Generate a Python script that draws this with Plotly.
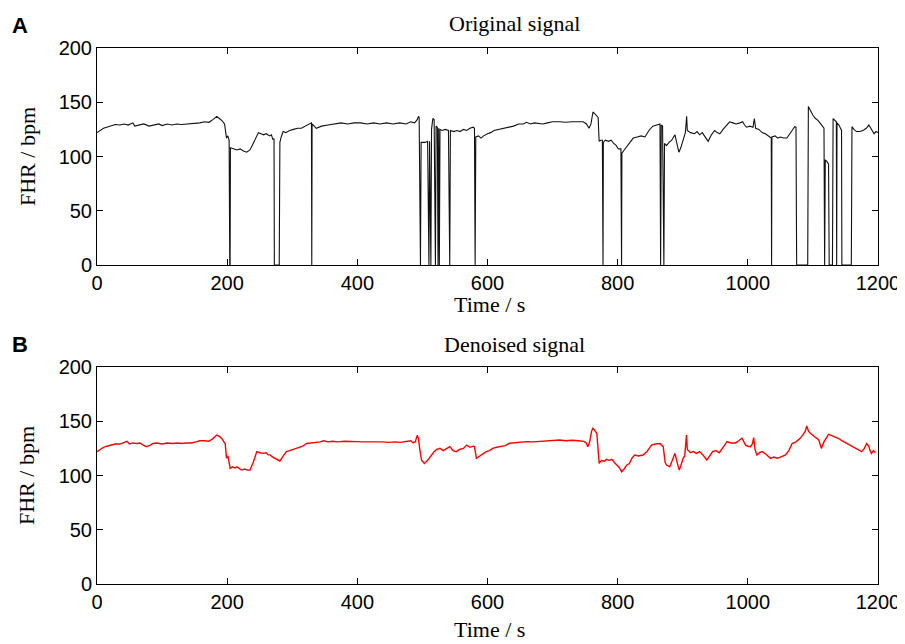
import plotly.graph_objects as go

# FHR recording, original (with signal-loss dropouts to 0) and denoised
orig_time = [
    0, 5, 10, 15, 20, 28, 35, 42, 48, 55, 58, 65, 72, 80, 88, 95, 100, 108, 115, 122,
    130, 140, 150, 158, 165, 172, 178, 184, 188, 192, 196, 199, 201, 203, 204, 204.5,
    205, 210, 215, 220, 225, 230, 235, 240, 245, 248, 252, 256, 260, 265, 268, 270,
    272, 272.5, 280, 281, 283, 286, 290, 296, 302, 308, 314, 320, 325, 329.5, 330,
    330.5, 337, 345, 355, 365, 375, 385, 395, 405, 415, 425, 435, 445, 455, 465, 475,
    482, 488, 492, 494, 495, 496, 497, 498, 504, 508, 509, 510, 511, 513, 514, 516,
    518, 520, 521, 523, 524, 525, 526, 527, 530, 535, 540, 542, 543, 548, 553, 558,
    563, 568, 573, 578, 580, 581, 582, 586, 590, 594, 600, 605, 610, 618, 625, 634,
    640, 648, 655, 660, 666, 672, 680, 685, 692, 700, 711, 720, 730, 740, 747, 752,
    756, 759, 762, 764, 768, 770, 771.5, 774, 776.5, 777, 777.5, 778, 781, 786, 790,
    794, 798, 801, 805, 806, 806.5, 810, 814, 818, 824, 830, 836, 842, 848, 854, 860,
    865, 866, 867, 869, 870, 871, 872, 875, 879, 883, 888, 891, 894, 897, 900, 904,
    906, 907, 912, 918, 922, 926, 930, 934, 939, 944, 949, 953, 957, 962, 967, 972,
    977, 982, 988, 992, 995, 998, 1003, 1008, 1010, 1012, 1017, 1022, 1027, 1031,
    1036, 1036.5, 1037, 1042, 1046, 1050, 1055, 1060, 1064, 1068, 1072, 1074, 1075,
    1092, 1093, 1096, 1100, 1104, 1108, 1112, 1117, 1118, 1119, 1122, 1124, 1125,
    1130, 1131, 1134, 1136, 1136.5, 1137, 1140, 1144, 1144.5, 1159, 1160, 1163, 1167,
    1172, 1177, 1182, 1186, 1190, 1194, 1197, 1200,
]
orig_fhr = [
    122, 124, 126, 127, 128, 129.5, 129, 130, 129, 131, 128, 129, 130, 128, 129, 130, 128.5, 130, 129, 130,
    129.5, 130, 130, 131, 132, 131.5, 134, 137, 135, 133, 130, 117, 119, 115, 0, 0,
    108, 107, 106, 107, 105, 104, 106, 112, 118, 122, 121, 120, 121, 119, 120, 116,
    116, 0, 0, 113, 118, 123, 122, 124, 125, 126, 126, 128, 129, 131, 0,
    130, 126, 128, 129, 130, 131, 130, 131, 131, 130, 131, 130, 131, 130, 131, 130,
    132, 131, 134, 137, 136, 0, 0, 113, 113, 114, 0, 0, 114, 0, 125, 135,
    134, 0, 128, 127, 0, 126, 0, 125, 124, 125, 124, 0, 124, 123, 124, 123,
    125, 124, 126, 127, 126, 0, 118, 119, 117, 119, 121, 122, 124, 125, 126, 127.5,
    128, 130, 130, 131.5, 130, 131, 130, 130, 131, 132, 132, 131.5, 132, 132, 132, 130,
    126, 130, 141, 140, 137, 136, 114, 115, 115, 0, 0, 113, 115, 114, 115,
    112, 110, 107, 107, 0, 103, 106, 109, 113, 117, 118, 119, 118, 124, 128, 129,
    130, 0, 129, 128, 0, 0, 112, 110, 113, 115, 120, 113, 104, 108, 115, 122,
    137, 124, 122, 121, 123, 120, 122, 118, 114, 120, 124, 122, 121, 125, 129, 132,
    131, 130, 131, 132, 129, 127, 128, 127, 135, 126, 125, 122, 121, 119,
    117, 0, 118, 119, 117, 118, 117, 117, 120, 124, 127.5, 127, 0,
    0, 146, 142, 138, 135, 133, 130, 126, 0, 97, 95, 93, 0,
    0, 135, 133, 132, 0, 131, 129, 124, 0, 0, 127.5, 125, 123,
    123, 124, 126, 129, 125, 121, 123, 122,
]

den_time = [
    0, 5, 10, 15, 20, 28, 35, 40, 46, 50, 55, 61, 66, 71, 76, 82, 86, 92, 100, 108,
    116, 124, 130, 137, 145, 152, 158, 165, 172, 178, 184, 188, 192, 195, 197, 199,
    201, 203, 204.6, 208, 212, 215, 219, 222, 227, 231, 235, 240, 245.5, 250, 256,
    260, 263, 266, 270, 275, 281, 285, 291, 296, 301, 306, 311, 316, 322, 330, 337,
    343, 348, 355, 362, 370, 380, 390, 399, 408, 418, 428, 438, 448, 458, 466, 474,
    482, 486, 489, 492, 494, 496, 498.7, 503, 508, 513, 518, 522, 527, 532, 537, 542,
    547, 552, 557, 563, 568, 573, 578, 580, 583, 588, 593, 598, 603, 608, 614, 620,
    627, 634, 642, 650, 660, 670, 680, 690, 700, 711, 720, 730, 740, 748, 752, 754,
    757, 760, 762, 765, 768, 771.6, 775, 779, 783, 787, 791, 795, 799, 803, 806, 810,
    814, 818, 822, 826, 832, 839, 845, 852, 858, 865, 870, 873, 875, 880, 884, 888,
    891, 894.5, 897, 900.6, 903, 905.8, 907, 912, 916, 921, 926, 931, 937, 941, 946,
    951, 956, 962, 968, 974, 981, 986, 991, 994, 996.6, 1000, 1004, 1007, 1009, 1011,
    1014, 1018, 1022, 1027, 1031, 1035, 1040, 1045, 1050, 1054, 1058, 1063, 1068,
    1074, 1080, 1084, 1088, 1090.6, 1093, 1096, 1100, 1104, 1109, 1113, 1117, 1121,
    1124, 1128, 1133, 1139, 1145, 1151, 1155, 1159.5, 1165, 1170, 1175, 1179, 1182.6,
    1186, 1187.7, 1190, 1193, 1196,
]
den_fhr = [
    122, 124, 126, 127, 128, 129, 129, 130, 131.5, 129, 130, 129.5, 130, 128, 126.6, 128, 129.5, 130, 129, 130,
    129.5, 130, 129.5, 130, 130, 131, 132, 132, 131.5, 134, 137.3, 136, 134, 131, 129.5, 116,
    118, 112, 106.6, 108, 107, 108, 106, 105, 106, 105, 105, 112, 122, 121, 120.4,
    121, 119, 119, 117, 115, 113.4, 117, 122, 123, 124, 125, 126, 127, 129.5, 130, 130,
    131, 132, 131, 131.5, 131, 131.5, 131, 131.2, 131, 131, 131.5, 131, 130.5, 131, 130.5, 131,
    132, 130, 131, 137, 134, 124, 114, 111, 114, 118, 122, 124, 125, 123, 125, 126.6,
    123, 122, 124, 125, 128, 126, 127, 126.6, 115.8, 118, 120, 122, 123, 125, 126, 127,
    127.5, 129.7, 130, 131, 131.2, 131, 131.5, 132, 132, 132.7, 132, 132.5, 132, 131.5, 129.7, 126.6,
    131, 141, 143.5, 141, 138.9, 111.2, 114, 113, 115, 114, 115, 112, 109.7, 107, 103.5, 106,
    109.7, 111, 116, 118.9, 118, 118.9, 122, 128.1, 129, 129.5, 126.6, 112, 109.7, 108, 114, 120.4,
    113, 105, 109, 115.8, 118, 137.3, 124, 121, 122, 120.4, 122, 119, 114.3, 118, 122,
    123, 121, 126, 131.2, 130, 130, 132, 134.3, 131, 128, 127, 126.6, 129, 135, 124,
    118.9, 121, 122, 120, 118, 115.8, 117, 116, 117, 118, 118.9, 123, 129.5,
    131, 134, 137, 140.4, 145.6, 141, 138.9, 137, 135, 132.7, 125, 131, 135,
    138, 137, 136, 134.3, 132, 130, 128, 126.6, 125, 123, 122, 125, 129.5,
    127, 123, 120.4, 123, 121,
]

x_ticks = [0, 200, 400, 600, 800, 1000, 1200]
y_ticks = [0, 50, 100, 150, 200]

# the page body keeps its default 8px margin, so the figure sits at (8, 8)
OFF = 8
W, H = 905 - OFF, 644 - OFF
sans = "Liberation Sans, Arial, sans-serif"
serif = "Liberation Serif, Times New Roman, serif"


def fx(px):
    return (px - OFF) / W


def fy(py):
    return 1 - (py - OFF) / H


fig = go.Figure()
fig.add_trace(go.Scatter(x=orig_time, y=orig_fhr, mode="lines",
                         line={"color": "#111111", "width": 1.1}, xaxis="x", yaxis="y"))
fig.add_trace(go.Scatter(x=den_time, y=den_fhr, mode="lines",
                         line={"color": "#ff0000", "width": 1.4}, xaxis="x2", yaxis="y2"))

x_dom = [fx(97), fx(878)]
top_dom = [fy(265), fy(48)]
bot_dom = [fy(584), fy(367)]

axis_style = dict(
    showline=True, linecolor="black", linewidth=1, mirror="ticks",
    ticks="inside", ticklen=6, tickcolor="black", tickwidth=1,
    showgrid=False, zeroline=False, automargin=False,
    tickfont={"family": sans, "size": 20, "color": "black"},
)

fig.update_layout(
    template="none",
    width=W, height=H,
    margin={"l": 0, "r": 0, "t": 0, "b": 0, "pad": 0},
    paper_bgcolor="white", plot_bgcolor="white",
    showlegend=False,
    xaxis=dict(domain=x_dom, anchor="y", range=[0, 1200], tickvals=x_ticks, **axis_style),
    yaxis=dict(domain=top_dom, anchor="x", range=[0, 200], tickvals=y_ticks, **axis_style),
    xaxis2=dict(domain=x_dom, anchor="y2", range=[0, 1200], tickvals=x_ticks, **axis_style),
    yaxis2=dict(domain=bot_dom, anchor="x2", range=[0, 200], tickvals=y_ticks, **axis_style),
)

texts = [
    ("A", 20, 25, sans, 22, True, 0),
    ("B", 20, 344, sans, 22, True, 0),
    ("Original signal", 515, 24, serif, 22, False, 0),
    ("Denoised signal", 514, 344, serif, 22, False, 0),
    ("Time / s", 489, 304, serif, 22, False, 0),
    ("Time / s", 489, 629, serif, 22, False, 0),
    ("FHR / bpm", 27, 157, serif, 22, False, -90),
    ("FHR / bpm", 27, 476, serif, 22, False, -90),
]
for txt, px, py, fam, size, bold, ang in texts:
    fig.add_annotation(
        text=f"<b>{txt}</b>" if bold else txt,
        x=fx(px), y=fy(py), xref="paper", yref="paper",
        xanchor="center", yanchor="middle", showarrow=False, textangle=ang,
        font={"family": fam, "size": size, "color": "black"},
    )

fig.write_html("out.html")
